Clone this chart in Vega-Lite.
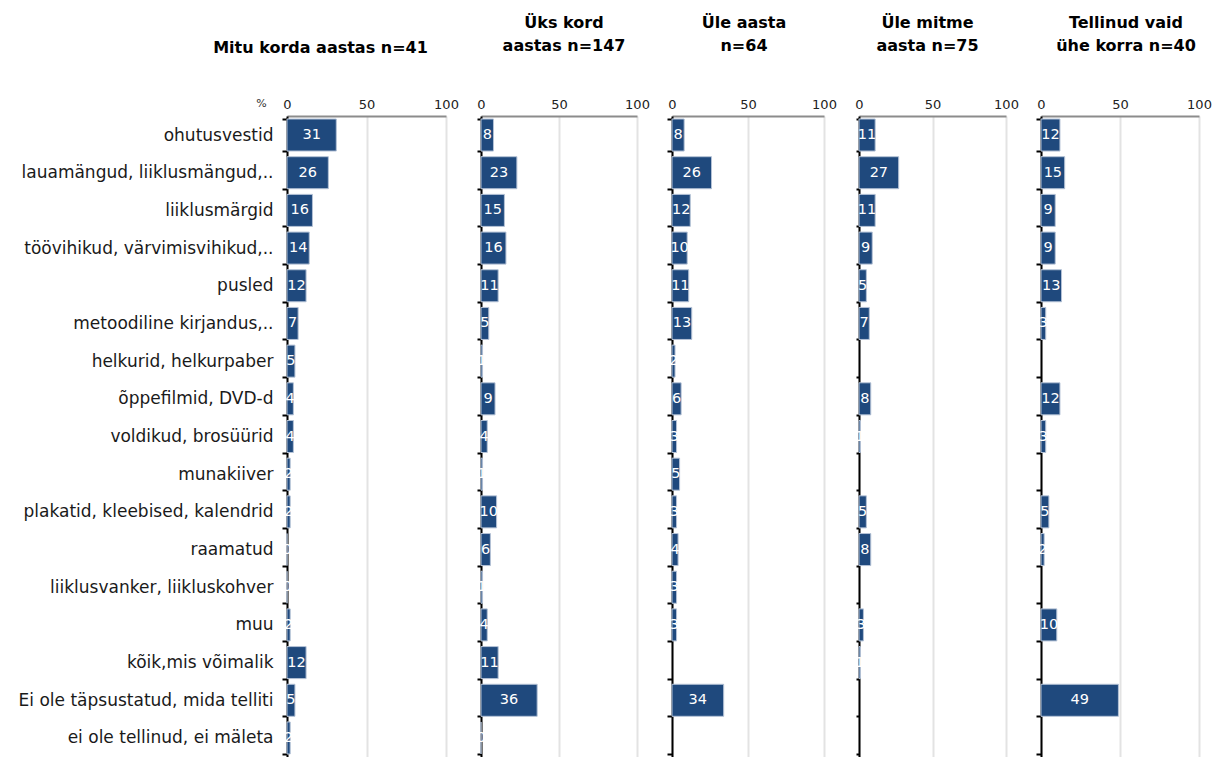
{
  "$schema": "https://vega.github.io/schema/vega-lite/v6.json",
  "autosize": {"type": "pad"},
  "padding": {"left": 18, "top": 15, "right": 5, "bottom": 0},
  "background": "white",
  "config": {
    "view": {"stroke": null},
    "font": "DejaVu Sans",
    "title": {"font": "DejaVu Sans", "fontSize": 16, "fontWeight": "bold", "color": "#000000", "anchor": "middle", "frame": "group", "baseline": "bottom", "lineHeight": 23, "offset": 44}
  },
  "bounds": "flush",
  "spacing": 35,
  "datasets": {
    "d": [
      {"g": "A", "cat": "ohutusvestid", "v": 31},
      {"g": "A", "cat": "lauamängud, liiklusmängud,..", "v": 26},
      {"g": "A", "cat": "liiklusmärgid", "v": 16},
      {"g": "A", "cat": "töövihikud, värvimisvihikud,..", "v": 14},
      {"g": "A", "cat": "pusled", "v": 12},
      {"g": "A", "cat": "metoodiline kirjandus,..", "v": 7},
      {"g": "A", "cat": "helkurid, helkurpaber", "v": 5},
      {"g": "A", "cat": "õppefilmid, DVD-d", "v": 4},
      {"g": "A", "cat": "voldikud, brosüürid", "v": 4},
      {"g": "A", "cat": "munakiiver", "v": 2},
      {"g": "A", "cat": "plakatid, kleebised, kalendrid", "v": 2},
      {"g": "A", "cat": "raamatud", "v": 0},
      {"g": "A", "cat": "liiklusvanker, liikluskohver", "v": 0},
      {"g": "A", "cat": "muu", "v": 2},
      {"g": "A", "cat": "kõik,mis võimalik", "v": 12},
      {"g": "A", "cat": "Ei ole täpsustatud, mida telliti", "v": 5},
      {"g": "A", "cat": "ei ole tellinud, ei mäleta", "v": 2},
      {"g": "B", "cat": "ohutusvestid", "v": 8},
      {"g": "B", "cat": "lauamängud, liiklusmängud,..", "v": 23},
      {"g": "B", "cat": "liiklusmärgid", "v": 15},
      {"g": "B", "cat": "töövihikud, värvimisvihikud,..", "v": 16},
      {"g": "B", "cat": "pusled", "v": 11},
      {"g": "B", "cat": "metoodiline kirjandus,..", "v": 5},
      {"g": "B", "cat": "helkurid, helkurpaber", "v": 1},
      {"g": "B", "cat": "õppefilmid, DVD-d", "v": 9},
      {"g": "B", "cat": "voldikud, brosüürid", "v": 4},
      {"g": "B", "cat": "munakiiver", "v": 1},
      {"g": "B", "cat": "plakatid, kleebised, kalendrid", "v": 10},
      {"g": "B", "cat": "raamatud", "v": 6},
      {"g": "B", "cat": "liiklusvanker, liikluskohver", "v": 1},
      {"g": "B", "cat": "muu", "v": 4},
      {"g": "B", "cat": "kõik,mis võimalik", "v": 11},
      {"g": "B", "cat": "Ei ole täpsustatud, mida telliti", "v": 36},
      {"g": "B", "cat": "ei ole tellinud, ei mäleta", "v": 0},
      {"g": "C", "cat": "ohutusvestid", "v": 8},
      {"g": "C", "cat": "lauamängud, liiklusmängud,..", "v": 26},
      {"g": "C", "cat": "liiklusmärgid", "v": 12},
      {"g": "C", "cat": "töövihikud, värvimisvihikud,..", "v": 10},
      {"g": "C", "cat": "pusled", "v": 11},
      {"g": "C", "cat": "metoodiline kirjandus,..", "v": 13},
      {"g": "C", "cat": "helkurid, helkurpaber", "v": 2},
      {"g": "C", "cat": "õppefilmid, DVD-d", "v": 6},
      {"g": "C", "cat": "voldikud, brosüürid", "v": 3},
      {"g": "C", "cat": "munakiiver", "v": 5},
      {"g": "C", "cat": "plakatid, kleebised, kalendrid", "v": 3},
      {"g": "C", "cat": "raamatud", "v": 4},
      {"g": "C", "cat": "liiklusvanker, liikluskohver", "v": 3},
      {"g": "C", "cat": "muu", "v": 3},
      {"g": "C", "cat": "Ei ole täpsustatud, mida telliti", "v": 34},
      {"g": "D", "cat": "ohutusvestid", "v": 11},
      {"g": "D", "cat": "lauamängud, liiklusmängud,..", "v": 27},
      {"g": "D", "cat": "liiklusmärgid", "v": 11},
      {"g": "D", "cat": "töövihikud, värvimisvihikud,..", "v": 9},
      {"g": "D", "cat": "pusled", "v": 5},
      {"g": "D", "cat": "metoodiline kirjandus,..", "v": 7},
      {"g": "D", "cat": "õppefilmid, DVD-d", "v": 8},
      {"g": "D", "cat": "voldikud, brosüürid", "v": 1},
      {"g": "D", "cat": "plakatid, kleebised, kalendrid", "v": 5},
      {"g": "D", "cat": "raamatud", "v": 8},
      {"g": "D", "cat": "muu", "v": 3},
      {"g": "D", "cat": "kõik,mis võimalik", "v": 1},
      {"g": "E", "cat": "ohutusvestid", "v": 12},
      {"g": "E", "cat": "lauamängud, liiklusmängud,..", "v": 15},
      {"g": "E", "cat": "liiklusmärgid", "v": 9},
      {"g": "E", "cat": "töövihikud, värvimisvihikud,..", "v": 9},
      {"g": "E", "cat": "pusled", "v": 13},
      {"g": "E", "cat": "metoodiline kirjandus,..", "v": 3},
      {"g": "E", "cat": "õppefilmid, DVD-d", "v": 12},
      {"g": "E", "cat": "voldikud, brosüürid", "v": 3},
      {"g": "E", "cat": "plakatid, kleebised, kalendrid", "v": 5},
      {"g": "E", "cat": "raamatud", "v": 2},
      {"g": "E", "cat": "muu", "v": 10},
      {"g": "E", "cat": "Ei ole täpsustatud, mida telliti", "v": 49}
    ]
  },
  "hconcat": [
    {
      "title": {"text": "Mitu korda aastas  n=41", "dx": -46, "dy": 3},
      "width": 159, "height": 641,
      "data": {"name": "d"},
      "transform": [{"filter": "datum.g === 'A'"}],
      "encoding": {
        "y": {"field": "cat", "type": "nominal", "sort": null,
          "scale": {"domain": ["ohutusvestid", "lauamängud, liiklusmängud,..", "liiklusmärgid", "töövihikud, värvimisvihikud,..", "pusled", "metoodiline kirjandus,..", "helkurid, helkurpaber", "õppefilmid, DVD-d", "voldikud, brosüürid", "munakiiver", "plakatid, kleebised, kalendrid", "raamatud", "liiklusvanker, liikluskohver", "muu", "kõik,mis võimalik", "Ei ole täpsustatud, mida telliti", "ei ole tellinud, ei mäleta"], "paddingInner": 0.15, "paddingOuter": 0.08},
          "axis": {"title": "%", "titleAngle": 0, "titleX": -26, "titleY": -10, "titleFontSize": 11, "titleFontWeight": "normal", "titleColor": "#333", "titleBaseline": "alphabetic", "labelFontSize": 17, "labelColor": "#1a1a1a", "labelPadding": 9, "labelLimit": 340, "domainColor": "#000", "domainWidth": 2, "tickColor": "#000", "tickWidth": 2, "tickSize": 5, "tickBand": "extent"}}
      },
      "resolve": {"scale": {"x": "independent"}},
      "layer": [
        {"mark": {"type": "bar", "color": "#1f497d", "stroke": "#b4c2d6", "strokeWidth": 1},
         "encoding": {"x": {"field": "v", "type": "quantitative", "scale": {"domain": [0, 100]},
           "axis": {"orient": "top", "values": [0, 50, 100], "title": null, "grid": true, "gridColor": "#e3e3e3", "gridWidth": 2, "domainColor": "#8c8c8c", "domainWidth": 2, "ticks": false, "labelFontSize": 13, "labelColor": "#222", "labelPadding": 5, "labelFlush": false}}}},
        {"mark": {"type": "text", "color": "white", "fontSize": 14.5, "align": "center", "baseline": "middle"},
         "encoding": {"x": {"field": "v", "type": "quantitative", "scale": {"domain": [0, 200]}, "axis": null}, "text": {"field": "v", "type": "quantitative"}}}
      ]
    },
    {
      "title": {"text": ["Üks kord", "aastas  n=147"], "dx": 5},
      "width": 156, "height": 641,
      "data": {"name": "d"},
      "transform": [{"filter": "datum.g === 'B'"}],
      "encoding": {
        "y": {"field": "cat", "type": "nominal", "sort": null,
          "scale": {"domain": ["ohutusvestid", "lauamängud, liiklusmängud,..", "liiklusmärgid", "töövihikud, värvimisvihikud,..", "pusled", "metoodiline kirjandus,..", "helkurid, helkurpaber", "õppefilmid, DVD-d", "voldikud, brosüürid", "munakiiver", "plakatid, kleebised, kalendrid", "raamatud", "liiklusvanker, liikluskohver", "muu", "kõik,mis võimalik", "Ei ole täpsustatud, mida telliti", "ei ole tellinud, ei mäleta"], "paddingInner": 0.15, "paddingOuter": 0.08},
          "axis": {"title": null, "labels": false, "domainColor": "#000", "domainWidth": 2, "tickColor": "#000", "tickWidth": 2, "tickSize": 4, "tickBand": "extent"}}
      },
      "resolve": {"scale": {"x": "independent"}},
      "layer": [
        {"mark": {"type": "bar", "color": "#1f497d", "stroke": "#b4c2d6", "strokeWidth": 1},
         "encoding": {"x": {"field": "v", "type": "quantitative", "scale": {"domain": [0, 100]},
           "axis": {"orient": "top", "values": [0, 50, 100], "title": null, "grid": true, "gridColor": "#e3e3e3", "gridWidth": 2, "domainColor": "#8c8c8c", "domainWidth": 2, "ticks": false, "labelFontSize": 13, "labelColor": "#222", "labelPadding": 5, "labelFlush": false}}}},
        {"mark": {"type": "text", "color": "white", "fontSize": 14.5, "align": "center", "baseline": "middle"},
         "encoding": {"x": {"field": "v", "type": "quantitative", "scale": {"domain": [0, 200]}, "axis": null}, "text": {"field": "v", "type": "quantitative"}}}
      ]
    },
    {
      "title": {"text": ["Üle aasta", "n=64"], "dx": -4},
      "width": 152, "height": 641,
      "data": {"name": "d"},
      "transform": [{"filter": "datum.g === 'C'"}],
      "encoding": {
        "y": {"field": "cat", "type": "nominal", "sort": null,
          "scale": {"domain": ["ohutusvestid", "lauamängud, liiklusmängud,..", "liiklusmärgid", "töövihikud, värvimisvihikud,..", "pusled", "metoodiline kirjandus,..", "helkurid, helkurpaber", "õppefilmid, DVD-d", "voldikud, brosüürid", "munakiiver", "plakatid, kleebised, kalendrid", "raamatud", "liiklusvanker, liikluskohver", "muu", "kõik,mis võimalik", "Ei ole täpsustatud, mida telliti", "ei ole tellinud, ei mäleta"], "paddingInner": 0.15, "paddingOuter": 0.08},
          "axis": {"title": null, "labels": false, "domainColor": "#000", "domainWidth": 2, "tickColor": "#000", "tickWidth": 2, "tickSize": 5, "tickBand": "extent"}}
      },
      "resolve": {"scale": {"x": "independent"}},
      "layer": [
        {"mark": {"type": "bar", "color": "#1f497d", "stroke": "#b4c2d6", "strokeWidth": 1},
         "encoding": {"x": {"field": "v", "type": "quantitative", "scale": {"domain": [0, 100]},
           "axis": {"orient": "top", "values": [0, 50, 100], "title": null, "grid": true, "gridColor": "#e3e3e3", "gridWidth": 2, "domainColor": "#8c8c8c", "domainWidth": 2, "ticks": false, "labelFontSize": 13, "labelColor": "#222", "labelPadding": 5, "labelFlush": false}}}},
        {"mark": {"type": "text", "color": "white", "fontSize": 14.5, "align": "center", "baseline": "middle"},
         "encoding": {"x": {"field": "v", "type": "quantitative", "scale": {"domain": [0, 200]}, "axis": null}, "text": {"field": "v", "type": "quantitative"}}}
      ]
    },
    {
      "title": {"text": ["Üle mitme", "aasta  n=75"], "dx": -5},
      "width": 147, "height": 641,
      "data": {"name": "d"},
      "transform": [{"filter": "datum.g === 'D'"}],
      "encoding": {
        "y": {"field": "cat", "type": "nominal", "sort": null,
          "scale": {"domain": ["ohutusvestid", "lauamängud, liiklusmängud,..", "liiklusmärgid", "töövihikud, värvimisvihikud,..", "pusled", "metoodiline kirjandus,..", "helkurid, helkurpaber", "õppefilmid, DVD-d", "voldikud, brosüürid", "munakiiver", "plakatid, kleebised, kalendrid", "raamatud", "liiklusvanker, liikluskohver", "muu", "kõik,mis võimalik", "Ei ole täpsustatud, mida telliti", "ei ole tellinud, ei mäleta"], "paddingInner": 0.15, "paddingOuter": 0.08},
          "axis": {"title": null, "labels": false, "domainColor": "#000", "domainWidth": 2, "tickColor": "#000", "tickWidth": 2, "tickSize": 3, "tickBand": "extent"}}
      },
      "resolve": {"scale": {"x": "independent"}},
      "layer": [
        {"mark": {"type": "bar", "color": "#1f497d", "stroke": "#b4c2d6", "strokeWidth": 1},
         "encoding": {"x": {"field": "v", "type": "quantitative", "scale": {"domain": [0, 100]},
           "axis": {"orient": "top", "values": [0, 50, 100], "title": null, "grid": true, "gridColor": "#e3e3e3", "gridWidth": 2, "domainColor": "#8c8c8c", "domainWidth": 2, "ticks": false, "labelFontSize": 13, "labelColor": "#222", "labelPadding": 5, "labelFlush": false}}}},
        {"mark": {"type": "text", "color": "white", "fontSize": 14.5, "align": "center", "baseline": "middle"},
         "encoding": {"x": {"field": "v", "type": "quantitative", "scale": {"domain": [0, 200]}, "axis": null}, "text": {"field": "v", "type": "quantitative"}}}
      ]
    },
    {
      "title": {"text": ["Tellinud vaid", "ühe korra n=40"], "dx": 6},
      "width": 158, "height": 641,
      "data": {"name": "d"},
      "transform": [{"filter": "datum.g === 'E'"}],
      "encoding": {
        "y": {"field": "cat", "type": "nominal", "sort": null,
          "scale": {"domain": ["ohutusvestid", "lauamängud, liiklusmängud,..", "liiklusmärgid", "töövihikud, värvimisvihikud,..", "pusled", "metoodiline kirjandus,..", "helkurid, helkurpaber", "õppefilmid, DVD-d", "voldikud, brosüürid", "munakiiver", "plakatid, kleebised, kalendrid", "raamatud", "liiklusvanker, liikluskohver", "muu", "kõik,mis võimalik", "Ei ole täpsustatud, mida telliti", "ei ole tellinud, ei mäleta"], "paddingInner": 0.15, "paddingOuter": 0.08},
          "axis": {"title": null, "labels": false, "domainColor": "#000", "domainWidth": 2, "tickColor": "#000", "tickWidth": 2, "tickSize": 5, "tickBand": "extent"}}
      },
      "resolve": {"scale": {"x": "independent"}},
      "layer": [
        {"mark": {"type": "bar", "color": "#1f497d", "stroke": "#b4c2d6", "strokeWidth": 1},
         "encoding": {"x": {"field": "v", "type": "quantitative", "scale": {"domain": [0, 100]},
           "axis": {"orient": "top", "values": [0, 50, 100], "title": null, "grid": true, "gridColor": "#e3e3e3", "gridWidth": 2, "domainColor": "#8c8c8c", "domainWidth": 2, "ticks": false, "labelFontSize": 13, "labelColor": "#222", "labelPadding": 5, "labelFlush": false}}}},
        {"mark": {"type": "text", "color": "white", "fontSize": 14.5, "align": "center", "baseline": "middle"},
         "encoding": {"x": {"field": "v", "type": "quantitative", "scale": {"domain": [0, 200]}, "axis": null}, "text": {"field": "v", "type": "quantitative"}}}
      ]
    }
  ]
}
